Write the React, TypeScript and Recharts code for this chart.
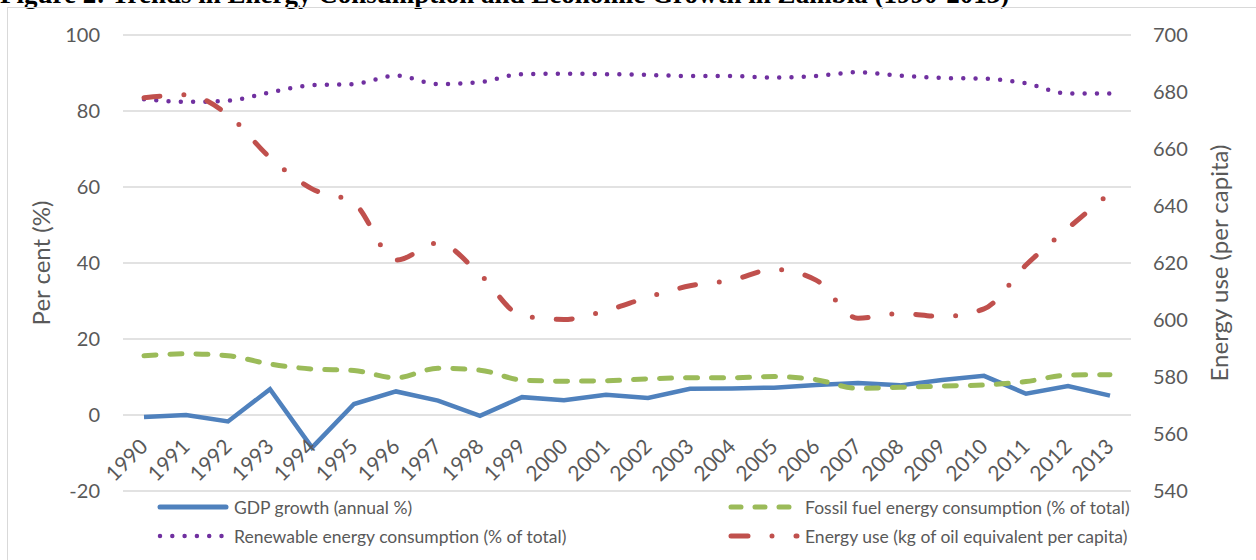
import React from 'react';
import { LineChart, Line, XAxis, YAxis, CartesianGrid } from 'recharts';

const years = [
  '1990', '1991', '1992', '1993', '1994', '1995', '1996', '1997', '1998', '1999', '2000', '2001',
  '2002', '2003', '2004', '2005', '2006', '2007', '2008', '2009', '2010', '2011', '2012', '2013',
];

// GDP growth (annual %)
const gdpGrowth = [-0.5, 0.0, -1.7, 6.8, -8.6, 2.9, 6.2, 3.8, -0.2, 4.7, 3.9, 5.3, 4.5, 6.9, 7.0, 7.2, 7.9, 8.4, 7.8, 9.2, 10.3, 5.6, 7.6, 5.1];

// Fossil fuel energy consumption (% of total)
const fossilFuel = [15.6, 16.1, 15.6, 13.4, 12.1, 11.7, 9.8, 12.3, 11.8, 9.2, 8.9, 9.0, 9.5, 9.8, 9.8, 10.1, 9.3, 7.0, 7.3, 7.6, 7.9, 8.8, 10.5, 10.6];

// Renewable energy consumption (% of total)
const renewable = [83.1, 82.4, 82.7, 84.9, 86.8, 87.1, 89.3, 87.1, 87.6, 89.7, 89.8, 89.7, 89.5, 89.2, 89.2, 88.8, 89.2, 90.2, 89.3, 88.7, 88.5, 87.3, 84.6, 84.6];

// Energy use (kg of oil equivalent per capita), right axis
const energyUse = [678, 679, 672, 657, 646, 641, 621, 627, 616, 601.5, 600.2, 603.3, 608, 612, 614, 617.8, 614, 600.6, 602.3, 601.2, 603.9, 619.3, 632.2, 644.5];

const leftTicks = [-20, 0, 20, 40, 60, 80, 100];
const rightTicks = [540, 560, 580, 600, 620, 640, 660, 680, 700];

const data = years.map((year, i) => ({
  year,
  gdp: gdpGrowth[i],
  fossil: fossilFuel[i],
  renew: renewable[i],
  energy: energyUse[i],
}));

const FONT = 'Lato, "Open Sans", sans-serif';
const TEXT = '#595959';
const BLUE = '#4f81bd';
const GREEN = '#9bbb59';
const PURPLE = '#7030a0';
const RED = '#c0504d';

const W = 1256;
const H = 560;

// category labels hang under the 0 line (Excel axis crossing), 20 units above the plot bottom
const ZERO_OFFSET = 76;

function YearTick(props: any) {
  const { x, y, payload } = props;
  const ax = x + 5;
  const ay = y - ZERO_OFFSET + 33;
  return (
    <text
      x={ax}
      y={ay}
      textAnchor="end"
      transform={`rotate(-45, ${ax}, ${ay})`}
      fontSize={21}
      fontFamily={FONT}
      fill={TEXT}
    >
      {payload.value}
    </text>
  );
}

function AxisTitle({ viewBox, value, dx }: any) {
  const cx = viewBox.x + dx;
  const cy = viewBox.y + viewBox.height / 2;
  return (
    <text
      x={cx}
      y={cy}
      textAnchor="middle"
      dominantBaseline="central"
      transform={`rotate(-90, ${cx}, ${cy})`}
      fontSize={24}
      fontFamily={FONT}
      fill={TEXT}
    >
      {value}
    </text>
  );
}

const legendItems = [
  { label: 'GDP growth (annual %)', color: BLUE, dash: undefined, width: 5, left: 157, top: 507 },
  { label: 'Fossil fuel energy consumption (% of total)', color: GREEN, dash: '10 14', width: 5, left: 728, top: 507 },
  { label: 'Renewable energy consumption (% of total)', color: PURPLE, dash: '0 12.3', width: 4.5, left: 157, top: 536 },
  { label: 'Energy use (kg of oil equivalent per capita)', color: RED, dash: '17 24 0 24', width: 5, left: 728, top: 536 },
];

function ChartLegend() {
  return (
    <>
      {legendItems.map((item) => (
        <div
          key={item.label}
          style={{
            position: 'absolute',
            left: item.left,
            top: item.top - 12,
            height: 24,
            display: 'flex',
            alignItems: 'center',
            fontFamily: FONT,
            fontSize: 17.5,
            color: TEXT,
            whiteSpace: 'nowrap',
          }}
        >
          <svg width={72} height={10} style={{ marginRight: 5 }}>
            <line
              x1={3}
              y1={5}
              x2={69}
              y2={5}
              stroke={item.color}
              strokeWidth={item.width}
              strokeLinecap="round"
              strokeDasharray={item.dash}
            />
          </svg>
          {item.label}
        </div>
      ))}
    </>
  );
}

export default function App() {
  return (
    <div style={{ position: 'absolute', left: 0, top: 0, width: W, height: H, overflow: 'hidden', background: '#fff' }}>
      <div
        style={{
          position: 'absolute',
          left: 0,
          top: -19,
          lineHeight: '27px',
          fontFamily: '"Liberation Serif", "Times New Roman", serif',
          fontWeight: 'bold',
          fontSize: 27,
          color: '#000',
          whiteSpace: 'nowrap',
        }}
      >
        Figure 2: Trends in Energy Consumption and Economic Growth in Zambia (1990-2013)
      </div>
      <div
        style={{
          position: 'absolute',
          left: 7,
          top: 7,
          width: W + 20,
          height: H + 20,
          border: '1px solid #d9d9d9',
        }}
      />
      <div style={{ position: 'absolute', left: 0, top: 0 }}>
        <LineChart width={W} height={H} data={data} margin={{ top: 35, right: 0, bottom: 39, left: 0 }}>
          <CartesianGrid yAxisId="left" vertical={false} stroke="#d9d9d9" strokeWidth={1.5} />
          <XAxis
            dataKey="year"
            height={30}
            padding={{ left: 21, right: 21 }}
            axisLine={false}
            tickLine={false}
            tickSize={0}
            tickMargin={0}
            tick={(p: any) => <YearTick {...p} />}
            interval={0}
          />
          <YAxis
            yAxisId="left"
            width={123}
            domain={[-20, 100]}
            ticks={leftTicks}
            axisLine={false}
            tickLine={false}
            tickSize={0}
            tickMargin={23}
            tick={{ fontSize: 20, fontFamily: FONT, fill: TEXT }}
            label={<AxisTitle value="Per cent (%)" dx={40} />}
          />
          <YAxis
            yAxisId="right"
            orientation="right"
            width={125}
            domain={[540, 700]}
            ticks={rightTicks}
            axisLine={false}
            tickLine={false}
            tickSize={0}
            tickMargin={22}
            tick={{ fontSize: 20, fontFamily: FONT, fill: TEXT }}
            label={<AxisTitle value="Energy use (per capita)" dx={87} />}
          />
          <Line
            yAxisId="left"
            type="linear"
            dataKey="gdp"
            stroke={BLUE}
            strokeWidth={4.5}
            dot={false}
            isAnimationActive={false}
          />
          <Line
            yAxisId="left"
            type="monotone"
            dataKey="fossil"
            stroke={GREEN}
            strokeWidth={5}
            strokeDasharray="12 14"
            strokeLinecap="round"
            dot={false}
            isAnimationActive={false}
          />
          <Line
            yAxisId="left"
            type="monotone"
            dataKey="renew"
            stroke={PURPLE}
            strokeWidth={4.5}
            strokeDasharray="0 12.3"
            strokeLinecap="round"
            dot={false}
            isAnimationActive={false}
          />
          <Line
            yAxisId="right"
            type="monotone"
            dataKey="energy"
            stroke={RED}
            strokeWidth={5}
            strokeDasharray="16 24 0 24"
            strokeLinecap="round"
            dot={false}
            isAnimationActive={false}
          />
        </LineChart>
      </div>
      <ChartLegend />
    </div>
  );
}
